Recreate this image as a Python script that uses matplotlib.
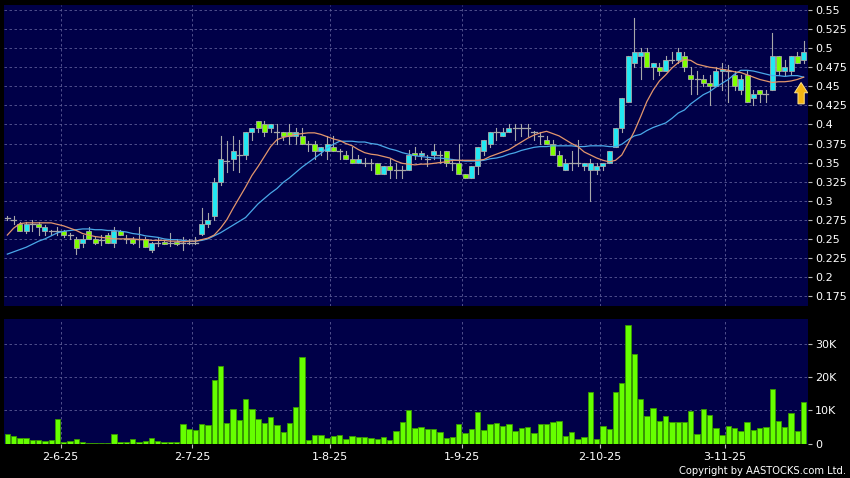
import matplotlib
matplotlib.use("Agg")
import matplotlib.pyplot as plt
import matplotlib.patches as patches
import numpy as np

# Daily OHLC (HKD), 128 sessions from late May to 20 Nov 2025
opens = [
    0.278, 0.275, 0.270, 0.260, 0.270, 0.270, 0.260, 0.260, 0.260, 0.260,
    0.255, 0.250, 0.245, 0.260, 0.250, 0.248, 0.255, 0.245, 0.260, 0.250,
    0.250, 0.250, 0.250, 0.235, 0.245, 0.246, 0.245, 0.246, 0.245, 0.245,
    0.245, 0.257, 0.270, 0.280, 0.325, 0.352, 0.355, 0.360, 0.360, 0.390,
    0.405, 0.400, 0.395, 0.390, 0.390, 0.390, 0.385, 0.385, 0.375, 0.375,
    0.365, 0.365, 0.370, 0.365, 0.360, 0.355, 0.350, 0.350, 0.350, 0.350,
    0.335, 0.345, 0.340, 0.340, 0.340, 0.363, 0.360, 0.355, 0.360, 0.360,
    0.365, 0.350, 0.350, 0.335, 0.330, 0.345, 0.365, 0.375, 0.390, 0.385,
    0.390, 0.395, 0.395, 0.395, 0.390, 0.385, 0.380, 0.375, 0.360, 0.340,
    0.350, 0.350, 0.345, 0.340, 0.340, 0.345, 0.350, 0.370, 0.395, 0.430,
    0.480, 0.490, 0.495, 0.475, 0.475, 0.470, 0.485, 0.485, 0.490, 0.465,
    0.460, 0.460, 0.455, 0.450, 0.470, 0.470, 0.465, 0.445, 0.465, 0.435,
    0.445, 0.440, 0.445, 0.490, 0.470, 0.470, 0.490, 0.485,
]
highs = [
    0.280, 0.280, 0.272, 0.272, 0.275, 0.272, 0.268, 0.262, 0.265, 0.262,
    0.258, 0.252, 0.255, 0.265, 0.252, 0.255, 0.258, 0.265, 0.262, 0.255,
    0.252, 0.265, 0.252, 0.246, 0.253, 0.248, 0.258, 0.250, 0.253, 0.250,
    0.253, 0.290, 0.284, 0.330, 0.385, 0.378, 0.385, 0.380, 0.390, 0.395,
    0.405, 0.405, 0.400, 0.400, 0.390, 0.400, 0.395, 0.395, 0.378, 0.378,
    0.370, 0.385, 0.385, 0.368, 0.365, 0.370, 0.360, 0.356, 0.355, 0.350,
    0.345, 0.355, 0.350, 0.345, 0.367, 0.370, 0.365, 0.360, 0.375, 0.365,
    0.365, 0.355, 0.375, 0.335, 0.345, 0.370, 0.380, 0.390, 0.395, 0.395,
    0.400, 0.400, 0.400, 0.400, 0.392, 0.390, 0.385, 0.380, 0.365, 0.355,
    0.365, 0.380, 0.350, 0.355, 0.350, 0.350, 0.365, 0.395, 0.435, 0.490,
    0.540, 0.500, 0.500, 0.480, 0.480, 0.490, 0.495, 0.500, 0.495, 0.475,
    0.470, 0.465, 0.465, 0.475, 0.480, 0.478, 0.470, 0.465, 0.470, 0.445,
    0.445, 0.445, 0.520, 0.490, 0.485, 0.490, 0.495, 0.510,
]
lows = [
    0.275, 0.270, 0.260, 0.258, 0.260, 0.255, 0.255, 0.255, 0.255, 0.252,
    0.250, 0.230, 0.240, 0.250, 0.243, 0.242, 0.245, 0.240, 0.255, 0.245,
    0.243, 0.240, 0.240, 0.233, 0.241, 0.243, 0.241, 0.242, 0.235, 0.243,
    0.243, 0.255, 0.265, 0.275, 0.320, 0.338, 0.340, 0.338, 0.355, 0.380,
    0.390, 0.385, 0.390, 0.375, 0.380, 0.375, 0.375, 0.375, 0.365, 0.355,
    0.360, 0.355, 0.365, 0.355, 0.355, 0.350, 0.350, 0.345, 0.340, 0.335,
    0.335, 0.330, 0.330, 0.330, 0.340, 0.355, 0.355, 0.345, 0.355, 0.350,
    0.345, 0.340, 0.335, 0.330, 0.330, 0.335, 0.360, 0.370, 0.380, 0.385,
    0.390, 0.380, 0.385, 0.385, 0.380, 0.375, 0.375, 0.360, 0.345, 0.340,
    0.340, 0.345, 0.340, 0.300, 0.335, 0.340, 0.350, 0.370, 0.390, 0.430,
    0.475, 0.460, 0.475, 0.460, 0.465, 0.470, 0.480, 0.480, 0.470, 0.440,
    0.440, 0.450, 0.425, 0.450, 0.445, 0.430, 0.445, 0.440, 0.430, 0.425,
    0.430, 0.430, 0.445, 0.465, 0.465, 0.465, 0.480, 0.480,
]
closes = [
    0.278, 0.275, 0.260, 0.270, 0.270, 0.265, 0.265, 0.260, 0.260, 0.255,
    0.255, 0.238, 0.250, 0.250, 0.245, 0.248, 0.245, 0.260, 0.255, 0.250,
    0.245, 0.250, 0.240, 0.245, 0.245, 0.243, 0.245, 0.243, 0.245, 0.245,
    0.245, 0.270, 0.275, 0.325, 0.355, 0.352, 0.365, 0.360, 0.390, 0.395,
    0.395, 0.390, 0.400, 0.390, 0.385, 0.385, 0.390, 0.375, 0.375, 0.365,
    0.370, 0.375, 0.365, 0.365, 0.355, 0.350, 0.355, 0.350, 0.350, 0.335,
    0.345, 0.340, 0.340, 0.340, 0.360, 0.360, 0.363, 0.355, 0.365, 0.360,
    0.350, 0.350, 0.335, 0.330, 0.345, 0.370, 0.380, 0.390, 0.390, 0.390,
    0.395, 0.395, 0.395, 0.395, 0.390, 0.385, 0.375, 0.360, 0.345, 0.350,
    0.350, 0.350, 0.350, 0.350, 0.345, 0.350, 0.365, 0.395, 0.435, 0.490,
    0.495, 0.495, 0.475, 0.480, 0.470, 0.485, 0.485, 0.495, 0.475, 0.460,
    0.460, 0.455, 0.450, 0.470, 0.473, 0.470, 0.450, 0.460, 0.430, 0.440,
    0.440, 0.440, 0.490, 0.470, 0.475, 0.490, 0.480, 0.495,
]

# moving averages as drawn (orange = 10 day, blue = 20 day)
ma10 = [
    0.255, 0.264, 0.270, 0.271, 0.271, 0.271, 0.271, 0.271, 0.269, 0.267,
    0.264, 0.261, 0.257, 0.255, 0.253, 0.252, 0.251, 0.250, 0.250, 0.250,
    0.250, 0.249, 0.249, 0.248, 0.248, 0.248, 0.247, 0.247, 0.246, 0.247,
    0.247, 0.249, 0.251, 0.255, 0.264, 0.275, 0.290, 0.304, 0.318, 0.333,
    0.345, 0.358, 0.371, 0.380, 0.383, 0.385, 0.387, 0.388, 0.389, 0.389,
    0.387, 0.384, 0.381, 0.379, 0.375, 0.372, 0.367, 0.363, 0.361, 0.360,
    0.358, 0.356, 0.352, 0.349, 0.348, 0.347, 0.348, 0.348, 0.349, 0.350,
    0.351, 0.353, 0.353, 0.353, 0.353, 0.353, 0.354, 0.358, 0.361, 0.364,
    0.367, 0.372, 0.377, 0.382, 0.386, 0.389, 0.391, 0.388, 0.385, 0.380,
    0.375, 0.371, 0.364, 0.360, 0.356, 0.353, 0.351, 0.353, 0.360, 0.375,
    0.391, 0.410, 0.430, 0.445, 0.457, 0.465, 0.474, 0.481, 0.485, 0.484,
    0.479, 0.477, 0.475, 0.474, 0.472, 0.471, 0.469, 0.468, 0.465, 0.462,
    0.459, 0.457, 0.455, 0.456, 0.456, 0.457, 0.459, 0.462,
]
ma20 = [
    0.230, 0.233, 0.236, 0.239, 0.243, 0.247, 0.250, 0.254, 0.258, 0.260,
    0.261, 0.262, 0.263, 0.263, 0.262, 0.262, 0.261, 0.261, 0.260, 0.259,
    0.257, 0.256, 0.254, 0.253, 0.252, 0.250, 0.249, 0.249, 0.248, 0.247,
    0.247, 0.248, 0.250, 0.254, 0.258, 0.263, 0.268, 0.273, 0.278, 0.287,
    0.296, 0.303, 0.310, 0.316, 0.324, 0.330, 0.337, 0.344, 0.350, 0.356,
    0.362, 0.369, 0.374, 0.378, 0.378, 0.378, 0.377, 0.377, 0.375, 0.374,
    0.371, 0.368, 0.366, 0.363, 0.361, 0.359, 0.358, 0.357, 0.356, 0.356,
    0.355, 0.354, 0.353, 0.352, 0.352, 0.352, 0.353, 0.355, 0.356, 0.358,
    0.361, 0.363, 0.366, 0.368, 0.370, 0.371, 0.371, 0.372, 0.372, 0.372,
    0.372, 0.371, 0.371, 0.372, 0.372, 0.372, 0.371, 0.371, 0.374, 0.380,
    0.385, 0.387, 0.392, 0.396, 0.399, 0.402, 0.408, 0.415, 0.419, 0.427,
    0.433, 0.439, 0.443, 0.449, 0.454, 0.459, 0.466, 0.471, 0.471, 0.470,
    0.468, 0.466, 0.464, 0.464, 0.463, 0.464, 0.464, 0.462,
]

# turnover in thousands of shares
volume_k = [
    3.0, 2.4, 1.7, 1.8, 1.0, 1.2, 0.8, 1.0, 7.3, 0.4,
    0.7, 1.3, 0.4, 0.2, 0.3, 0.3, 0.3, 3.0, 0.4, 0.4,
    1.3, 0.6, 0.7, 1.6, 0.8, 0.6, 0.4, 0.4, 5.8, 4.5,
    4.1, 5.8, 5.5, 19.1, 23.6, 6.2, 10.5, 7.0, 13.5, 10.5,
    7.4, 6.1, 8.0, 5.7, 3.4, 6.3, 11.1, 26.1, 1.0, 2.5,
    2.7, 1.8, 2.2, 2.5, 1.5, 2.3, 2.1, 2.0, 1.8, 1.3,
    1.9, 1.2, 3.9, 6.5, 10.2, 4.6, 5.1, 4.4, 4.5, 3.5,
    1.6, 2.0, 5.8, 3.1, 4.3, 9.5, 4.0, 6.0, 6.3, 5.2,
    6.0, 3.8, 4.7, 5.1, 3.1, 6.0, 6.0, 6.4, 6.7, 2.2,
    3.5, 1.4, 1.9, 15.6, 1.5, 5.2, 4.4, 15.5, 18.2, 35.9,
    27.1, 13.4, 8.3, 10.9, 6.9, 8.2, 6.6, 6.6, 6.4, 9.7,
    3.0, 10.5, 8.6, 4.7, 2.6, 5.4, 4.6, 3.8, 6.5, 4.0,
    4.8, 4.9, 16.6, 6.7, 5.0, 9.1, 3.7, 12.5,
]

date_labels = ['2-6-25', '2-7-25', '1-8-25', '1-9-25', '2-10-25', '3-11-25']
date_pos = [8.5, 29.5, 51.5, 72.5, 94.5, 114.5]   # boundary before first session of month

price_ticks = [0.175, 0.2, 0.225, 0.25, 0.275, 0.3, 0.325, 0.35, 0.375,
               0.4, 0.425, 0.45, 0.475, 0.5, 0.525, 0.55]
vol_ticks = [0, 10, 20, 30]
vol_tick_labels = ['0', '10K', '20K', '30K']

BG = '#000048'
GRID = '#5c5c96'
UP = '#22E8F2'
DOWN = '#7FFF00'
WICK = '#a8a8a8'

n = len(closes)
idx = np.arange(n)

fig = plt.figure(figsize=(8.5, 4.78), dpi=100, facecolor='black')
ax = fig.add_axes([4/850, 1 - 306/478, 804/850, 301/478])
axv = fig.add_axes([4/850, 1 - 443.5/478, 804/850, 124.5/478])

for a in (ax, axv):
    a.set_facecolor(BG)
    for s in a.spines.values():
        s.set_visible(False)
    a.set_xlim(-0.53, 127.7)
    for p in date_pos:
        a.axvline(p, color=GRID, linestyle=(0, (3, 3)), linewidth=0.6, zorder=0)

# --- price panel ---
ax.set_ylim(0.162, 0.5566)
for t in price_ticks:
    ax.axhline(t, color=GRID, linestyle=(0, (3, 3)), linewidth=0.6, zorder=0)

body_w = 0.8
for i in range(n):
    o, h, l, c = opens[i], highs[i], lows[i], closes[i]
    ax.plot([i, i], [l, h], color=WICK, linewidth=0.8, zorder=2)
    if c > o:
        rect = patches.Rectangle((i - body_w/2, o), body_w, c - o,
                                 facecolor=UP, edgecolor=WICK, linewidth=0.6, zorder=3)
        ax.add_patch(rect)
    elif c < o:
        rect = patches.Rectangle((i - body_w/2, c), body_w, o - c,
                                 facecolor=DOWN, edgecolor=WICK, linewidth=0.6, zorder=3)
        ax.add_patch(rect)
    else:
        ax.plot([i - body_w/2, i + body_w/2], [o, o], color=WICK, linewidth=0.9, zorder=3)

ax.plot(idx, ma20, color='#4aa8e8', linewidth=0.9, zorder=4)
ax.plot(idx, ma10, color='#e3966c', linewidth=0.9, zorder=4)

# the gold "up" marker
arrow = patches.FancyArrow(126.6, 0.4270, 0, 0.0145, width=1.0, head_width=2.1,
                           head_length=0.0135, length_includes_head=False,
                           facecolor='#f3b412', edgecolor='#ffe28a', linewidth=0.7, zorder=6)
ax.add_patch(arrow)

ax.yaxis.tick_right()
ax.set_yticks(price_ticks)
ax.set_yticklabels([f'{t:g}' for t in price_ticks])
ax.tick_params(axis='y', length=3, width=0.8, pad=2, color='#bbbbbb',
               labelcolor='white', labelsize=8)
ax.set_xticks([])

# --- volume panel ---
axv.set_ylim(0, 37.7)
for t in vol_ticks[1:]:
    axv.axhline(t, color=GRID, linestyle=(0, (3, 3)), linewidth=0.6, zorder=0)
axv.bar(idx, volume_k, width=0.86, color='#66ff00', edgecolor='#3a9a00',
        linewidth=0.6, zorder=3)
axv.yaxis.tick_right()
axv.set_yticks(vol_ticks)
axv.set_yticklabels(vol_tick_labels)
axv.tick_params(axis='y', length=3, width=0.8, pad=2, color='#bbbbbb',
                labelcolor='white', labelsize=8)
axv.set_xticks(date_pos)
axv.set_xticklabels(date_labels)
axv.tick_params(axis='x', length=3, width=0.8, pad=3, color='#bbbbbb',
                labelcolor='white', labelsize=8)

fig.text(0.996, 0.004, 'Copyright by AASTOCKS.com Ltd.', ha='right', va='bottom',
         color='white', fontsize=7.2)

fig.savefig('out.png', dpi=100, facecolor='black')
